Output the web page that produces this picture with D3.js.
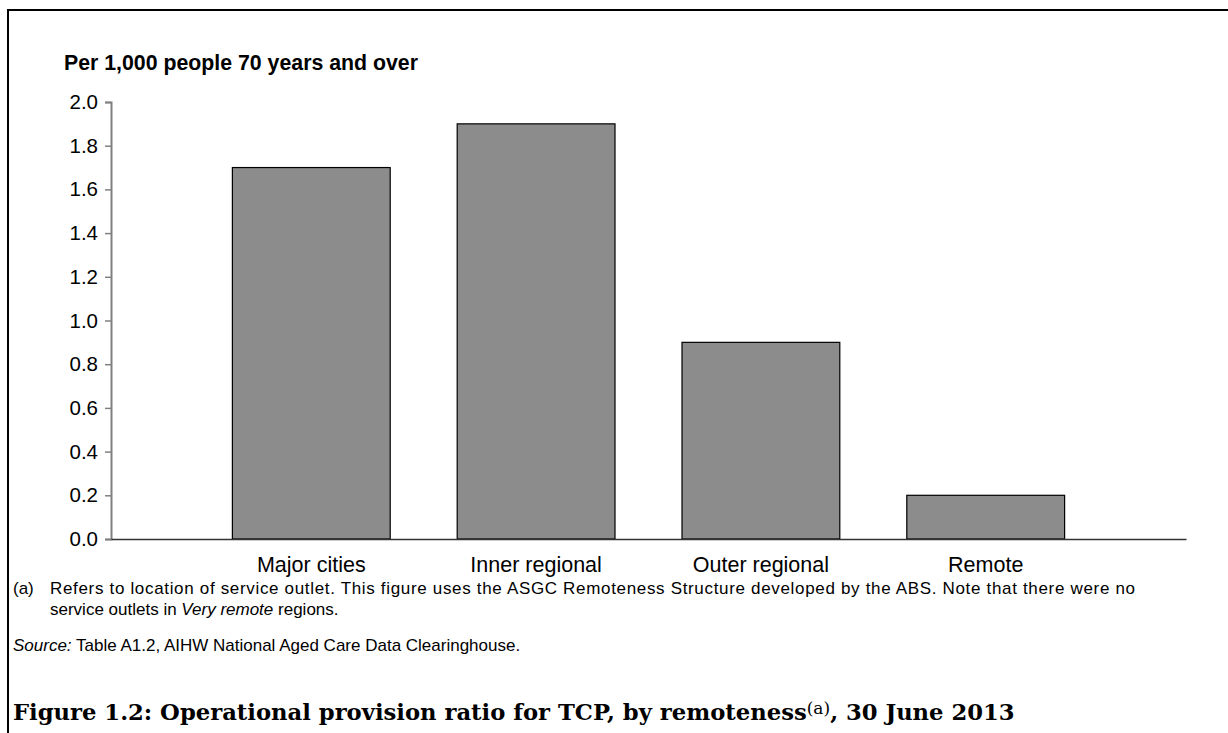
<!DOCTYPE html>
<html>
<head>
<meta charset="utf-8">
<script src="https://cdn.jsdelivr.net/npm/d3@7"></script>
<style>
  html, body { margin: 0; padding: 0; background: #fff; }
  svg { display: block; }
</style>
</head>
<body>
<svg id="chart" width="1228" height="733"></svg>
<script>
// ---- data ----
const categories = ["Major cities", "Inner regional", "Outer regional", "Remote"];
const values = [1.7, 1.9, 0.9, 0.2];
const yTicks = [0, 0.2, 0.4, 0.6, 0.8, 1.0, 1.2, 1.4, 1.6, 1.8, 2.0];
const yTitle = "Per 1,000 people 70 years and over";
const footnoteLines = [
  ["Refers to location of service outlet. This figure uses the ASGC Remoteness Structure developed by the ABS. Note that there were no"],
  ["service outlets in ", "Very remote", " regions."]
];
const sourceText = "Table A1.2, AIHW National Aged Care Data Clearinghouse.";
const figTitle = ["Figure 1.2: Operational provision ratio for TCP, by remoteness", "(a)", ", 30 June 2013"];

const svg = d3.select("#chart");
const sans = "'Liberation Sans', Arial, sans-serif";

// frame (top and left rule)
svg.append("line").attr("x1", 8).attr("x2", 1228).attr("y1", 10).attr("y2", 10)
  .attr("stroke", "#000").attr("stroke-width", 2);
svg.append("line").attr("x1", 8).attr("x2", 8).attr("y1", 9).attr("y2", 733)
  .attr("stroke", "#000").attr("stroke-width", 2);

const plotLeft = 111, plotRight = 1186, plotTop = 102, plotBottom = 539;

const x = d3.scaleBand().domain(categories).range([plotLeft, plotRight])
  .paddingInner(0.298).paddingOuter(0.54);
const y = d3.scaleLinear().domain([0, 2]).range([plotBottom, plotTop]);

// y axis title
svg.append("text").attr("x", 64).attr("y", 70)
  .attr("font-family", sans).attr("font-weight", "bold").attr("font-size", 21.3)
  .attr("fill", "#000").text(yTitle);

// bars
svg.append("g").selectAll("rect").data(values).join("rect")
  .attr("x", (d, i) => x(categories[i]))
  .attr("width", x.bandwidth())
  .attr("y", d => y(d))
  .attr("height", d => y(0) - y(d))
  .attr("fill", "#8c8c8c")
  .attr("stroke", "#000").attr("stroke-width", 1.2);

// y axis
const yAxis = svg.append("g").attr("transform", `translate(${plotLeft},0)`)
  .call(d3.axisLeft(y).tickValues(yTicks).tickFormat(d3.format(".1f")).tickSize(6).tickPadding(7));
yAxis.select(".domain").attr("stroke", "#808080").attr("stroke-width", 2);
yAxis.selectAll(".tick line").attr("stroke", "#808080").attr("stroke-width", 1.5);
yAxis.selectAll(".tick text").attr("font-family", sans).attr("font-size", 20.5).attr("fill", "#000");

// x axis
const xAxis = svg.append("g").attr("transform", `translate(0,${plotBottom})`)
  .call(d3.axisBottom(x).tickSize(0).tickPadding(18));
xAxis.select(".domain").attr("stroke", "#333").attr("stroke-width", 1.5);
xAxis.selectAll(".tick text").attr("font-family", sans).attr("font-size", 21.5).attr("fill", "#000");

// footnotes
svg.append("text").attr("x", 13).attr("y", 594)
  .attr("font-family", sans).attr("font-size", 17).text("(a)");
footnoteLines.forEach((parts, li) => {
  const t = svg.append("text").attr("x", 50).attr("y", 594 + li * 21)
    .attr("font-family", sans).attr("font-size", 17).attr("fill", "#000");
  parts.forEach((p, pi) => {
    t.append("tspan").attr("font-style", pi === 1 ? "italic" : "normal").text(p);
  });
  if (li === 0) t.attr("textLength", 1085).attr("lengthAdjust", "spacing");
});
const src = svg.append("text").attr("x", 13).attr("y", 651)
  .attr("font-family", sans).attr("font-size", 17).attr("fill", "#000");
src.append("tspan").attr("font-style", "italic").text("Source:");
src.append("tspan").text(" " + sourceText);

// figure title
const ft = svg.append("text").attr("x", 13).attr("y", 720)
  .attr("font-family", "'DejaVu Serif', 'Liberation Serif', serif").attr("font-weight", "bold")
  .attr("font-size", 20).attr("fill", "#000");
ft.append("tspan").text(figTitle[0]);
ft.append("tspan").attr("font-weight", "normal").attr("font-size", "0.75em").attr("dy", -6).text(figTitle[1]);
ft.append("tspan").attr("dy", 6).text(figTitle[2]);
// fit title to measured reference width
const w = ft.node().getComputedTextLength();
ft.attr("font-size", 20 * 1002 / w);
</script>
</body>
</html>
